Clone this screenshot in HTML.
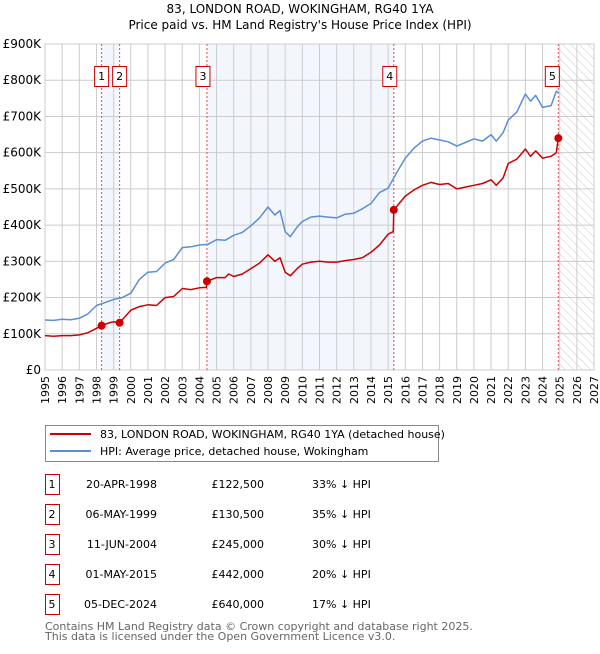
<!DOCTYPE html>
<html><head><meta charset="utf-8"><style>
body{margin:0;background:#fff;font-family:"DejaVu Sans","Liberation Sans",sans-serif;}
svg text{font-family:"DejaVu Sans","Liberation Sans",sans-serif;}
</style></head><body>
<svg id="c" width="600" height="650" xmlns="http://www.w3.org/2000/svg">
<defs><pattern id="hatch" width="6" height="6" patternUnits="userSpaceOnUse" patternTransform="rotate(-45)"><line x1="0" y1="0" x2="0" y2="6" stroke="#ccc" stroke-width="1"/></pattern></defs>
<text x="300" y="13" text-anchor="middle" font-size="12">83, LONDON ROAD, WOKINGHAM, RG40 1YA</text>
<text x="300" y="29" text-anchor="middle" font-size="12">Price paid vs. HM Land Registry's House Price Index (HPI)</text>
<g id="plot"></g>
<g>
<rect x="45.5" y="425.5" width="393" height="36" fill="#fff" stroke="#888"/>
<line x1="50" y1="434" x2="91" y2="434" stroke="#cc0000" stroke-width="2"/>
<text x="100" y="438" font-size="11">83, LONDON ROAD, WOKINGHAM, RG40 1YA (detached house)</text>
<line x1="50" y1="451" x2="91" y2="451" stroke="#5b8ed6" stroke-width="2"/>
<text x="100" y="455" font-size="11">HPI: Average price, detached house, Wokingham</text>
</g>
<g id="tbl" font-size="11"></g>
<text x="45" y="630" font-size="11" fill="#666">Contains HM Land Registry data © Crown copyright and database right 2025.</text>
<text x="45" y="640" font-size="11" fill="#666">This data is licensed under the Open Government Licence v3.0.</text>
</svg>
<script>
const hpiYears=[1995,1995.5,1996,1996.5,1997,1997.5,1998,1998.5,1999,1999.5,2000,2000.5,2001,2001.5,2002,2002.5,2003,2003.5,2004,2004.5,2005,2005.5,2006,2006.5,2007,2007.5,2008,2008.4,2008.7,2009,2009.3,2009.7,2010,2010.5,2011,2011.5,2012,2012.5,2013,2013.5,2014,2014.5,2015,2015.5,2016,2016.5,2017,2017.5,2018,2018.5,2019,2019.5,2020,2020.5,2021,2021.3,2021.7,2022,2022.5,2023,2023.3,2023.6,2024,2024.5,2024.8,2024.95];
const hpiValues=[138,137,140,139,143,155,178,186,195,200,212,250,270,272,295,305,338,340,345,347,360,358,372,380,398,420,450,428,440,382,368,395,410,422,425,422,420,430,433,445,460,490,502,545,585,612,632,640,635,630,618,628,638,632,650,632,655,690,712,762,742,758,725,730,770,765];
const ppYears=[1995,1995.5,1996,1996.5,1997,1997.5,1998,1998.3,1998.8,1999,1999.35,2000,2000.5,2001,2001.5,2002,2002.5,2003,2003.5,2004,2004.4,2004.44,2005,2005.5,2005.7,2006,2006.5,2007,2007.5,2008,2008.4,2008.7,2009,2009.3,2009.7,2010,2010.5,2011,2011.5,2012,2012.5,2013,2013.5,2014,2014.5,2015,2015.3,2015.33,2016,2016.5,2017,2017.5,2018,2018.5,2019,2019.5,2020,2020.5,2021,2021.3,2021.7,2022,2022.5,2023,2023.3,2023.6,2024,2024.5,2024.8,2024.92];
const ppValues=[95,93,95,95,97,103,115,122.5,131,133,130.5,165,175,180,178,200,203,225,222,227,228,245,255,255,265,258,265,280,295,318,300,310,270,260,280,292,298,300,298,298,302,305,310,325,345,375,382,442,480,497,510,518,512,515,500,505,510,515,525,510,530,570,582,610,590,605,585,590,600,640];
const saleYears=[1998.3,1999.35,2004.44,2015.33,2024.92];
const saleValues=[122.5,130.5,245,442,640];
const saleLabels=["1","2","3","4","5"];
const saleDates=["20-APR-1998","06-MAY-1999","11-JUN-2004","01-MAY-2015","05-DEC-2024"];
const salePrices=["£122,500","£130,500","£245,000","£442,000","£640,000"];
const salePct=["33% ↓ HPI","35% ↓ HPI","30% ↓ HPI","20% ↓ HPI","17% ↓ HPI"];
const yTicks=[0,100,200,300,400,500,600,700,800,900];
const yTickLabels=["£0","£100K","£200K","£300K","£400K","£500K","£600K","£700K","£800K","£900K"];
const xTicks=[1995,1996,1997,1998,1999,2000,2001,2002,2003,2004,2005,2006,2007,2008,2009,2010,2011,2012,2013,2014,2015,2016,2017,2018,2019,2020,2021,2022,2023,2024,2025,2026,2027];

const X0=45,X1=594,Y0=370,Y1=44;
const xs=y=>X0+(y-1995)/(2027-1995)*(X1-X0);
const ys=v=>Y0-v/900*(Y0-Y1);
const NS="http://www.w3.org/2000/svg";
const plot=document.getElementById('plot');
function mk(tag,attrs,parent){const e=document.createElementNS(NS,tag);for(const k in attrs)e.setAttribute(k,attrs[k]);(parent||plot).appendChild(e);return e;}

let r;
r=mk('rect',{x:xs(saleYears[0]),y:Y1,width:xs(saleYears[1])-xs(saleYears[0]),height:Y0-Y1,fill:'#eef3fc',opacity:0.7});


r=mk('rect',{x:xs(saleYears[2]),y:Y1,width:xs(saleYears[3])-xs(saleYears[2]),height:Y0-Y1,fill:'#eef3fc',opacity:0.7});


r=mk('rect',{x:xs(2025),y:Y1,width:X1-xs(2025),height:Y0-Y1,fill:'url(#hatch)'});



xTicks.forEach(t=>{
  const l=mk('line',{x1:xs(t),x2:xs(t),y1:Y1,y2:Y0,stroke:'#ccc','stroke-width':1});
  
  
  const tx=mk('text',{x:0,y:0,'font-size':11,'text-anchor':'end',transform:`translate(${xs(t)+4},${Y0+6}) rotate(-90)`});
  tx.textContent=t;
  
  
});
yTicks.forEach((t,i)=>{
  const l=mk('line',{x1:X0,x2:X1,y1:ys(t),y2:ys(t),stroke:'#ccc','stroke-width':1});
  
  
  const tx=mk('text',{x:X0-4,y:ys(t)+4,'font-size':12,'text-anchor':'end'});
  tx.textContent=yTickLabels[i];
  
  
});
r=mk('rect',{x:X0,y:Y1,width:X1-X0,height:Y0-Y1,fill:'none',stroke:'#ccc'});



saleYears.forEach((y,i)=>{
  const l=mk('line',{x1:xs(y),x2:xs(y),y1:Y1,y2:Y0,stroke:'#e05050','stroke-width':1,'stroke-dasharray':'2,2'});
  
  
});

function line(xa,va,color,name){
  const d=xa.map((x,i)=>(i?'L':'M')+xs(x).toFixed(1)+','+ys(va[i]).toFixed(1)).join(' ');
  const p=mk('path',{d:d,fill:'none',stroke:color,'stroke-width':1.5,'stroke-linejoin':'round'});
  
  
}
line(hpiYears,hpiValues,'#5b8ed6','hpi-line');
line(ppYears,ppValues,'#cc0000','price-paid-line');

saleYears.forEach((y,i)=>{
  const c=mk('circle',{cx:xs(y),cy:ys(saleValues[i]),r:4,fill:'#cc0000'});
  
  
  const bx=xs(y)-(i===0||i===1?6:i===4?12:10);
  const g=mk('rect',{x:bx-1,y:66.5,width:14,height:20,fill:'#fff',stroke:'#cc0000'});
  
  
  const t=mk('text',{x:bx+6,y:80,'font-size':11,'text-anchor':'middle'});
  t.textContent=saleLabels[i];
  
  
});

const tbl=document.getElementById('tbl');
saleLabels.forEach((s,i)=>{
  const cy=483+i*30;
  const b=mk('rect',{x:45.5,y:cy-8.5,width:14,height:20,fill:'#fff',stroke:'#cc0000'},tbl);
  
  
  const cells=[[52,'middle',s],[157,'end',saleDates[i]],[264,'end',salePrices[i]],[312,'start',salePct[i]]];
  cells.forEach(c=>{
    const t=mk('text',{x:c[0],y:cy+5,'text-anchor':c[1]},tbl);
    t.textContent=c[2];
    
    
  });
});
</script>
</body></html>
